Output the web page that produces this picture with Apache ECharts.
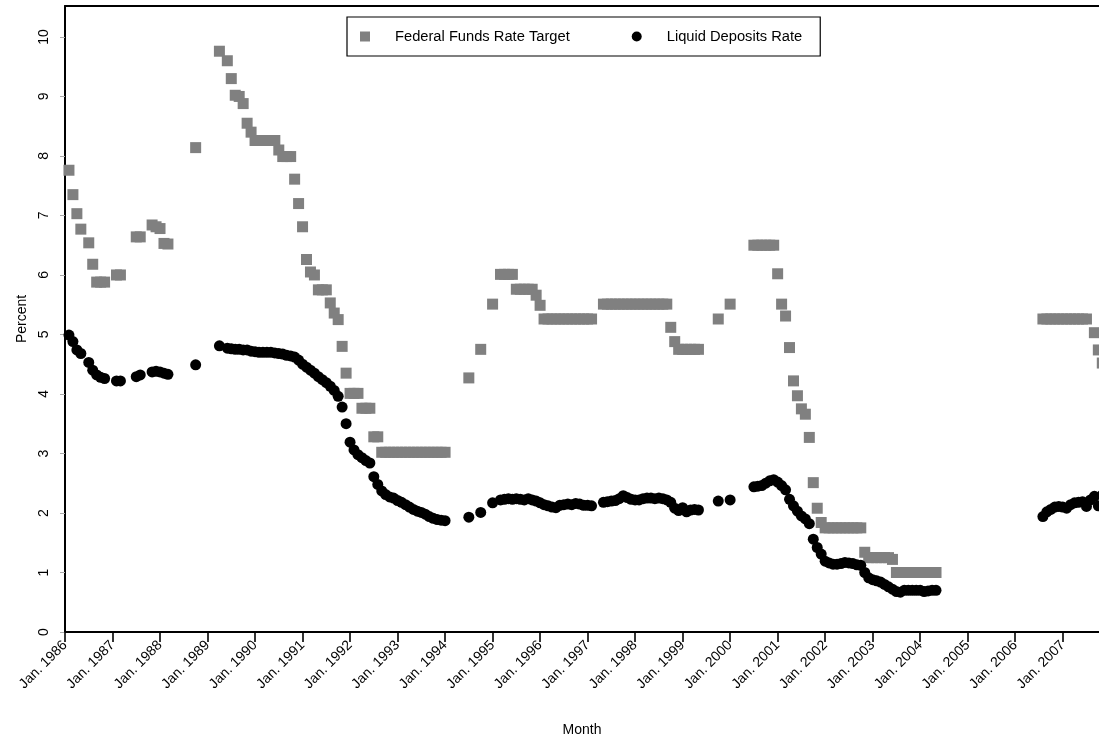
<!DOCTYPE html>
<html>
<head>
<meta charset="utf-8">
<script src="https://cdn.jsdelivr.net/npm/echarts@6.0.0/dist/echarts.min.js"></script>
<style>
  html, body { margin: 0; padding: 0; background: #fff; }
  #chart { width: 1099px; height: 740px; }
</style>
</head>
<body>
<div id="chart"></div>
<script>
var myChart = echarts.init(document.getElementById('chart'));

// monthly values, first entry = Jan. 1986, null = no observation
const startYear = 1986;

const fedFunds = [
    null, 7.76, 7.35, 7.03, 6.77, null, 6.54, 6.18, 5.88, 5.88, 5.88, null,   // 1986
    null, 6.00, 6.00, null, null, null, 6.64, 6.64, null, null, 6.84, 6.81,   // 1987
    6.78, 6.53, 6.52, null, null, null, null, null, null, 8.14, null, null,   // 1988
    null, null, null, 9.76, null, 9.60, 9.30, 9.02, 9.00, 8.88, 8.55, 8.40,   // 1989
    8.26, 8.26, 8.26, 8.26, 8.26, 8.26, 8.10, 7.99, 7.99, 7.99, 7.61, 7.20,   // 1990
    6.81, 6.26, 6.05, 6.00, 5.75, 5.75, 5.75, 5.53, 5.36, 5.25, 4.80, 4.35,   // 1991
    4.01, 4.01, 4.01, 3.76, 3.76, 3.76, 3.28, 3.28, 3.02, 3.02, 3.02, 3.02,   // 1992
    3.02, 3.02, 3.02, 3.02, 3.02, 3.02, 3.02, 3.02, 3.02, 3.02, 3.02, 3.02,   // 1993
    3.02, null, null, null, null, null, 4.27, null, null, 4.75, null, null,   // 1994
    5.51, null, 6.01, 6.01, 6.01, 6.01, 5.76, 5.76, 5.76, 5.76, 5.76, 5.66,   // 1995
    5.49, 5.26, 5.26, 5.26, 5.26, 5.26, 5.26, 5.26, 5.26, 5.26, 5.26, 5.26,   // 1996
    5.26, 5.26, null, null, 5.51, 5.51, 5.51, 5.51, 5.51, 5.51, 5.51, 5.51,   // 1997
    5.51, 5.51, 5.51, 5.51, 5.51, 5.51, 5.51, 5.51, 5.51, 5.12, 4.88, 4.75,   // 1998
    4.75, 4.75, 4.75, 4.75, 4.75, null, null, null, null, 5.26, null, null,   // 1999
    5.51, null, null, null, null, null, 6.50, 6.50, 6.50, 6.50, 6.50, 6.50,   // 2000
    6.02, 5.51, 5.31, 4.78, 4.22, 3.97, 3.75, 3.66, 3.27, 2.51, 2.08, 1.84,   // 2001
    1.75, 1.75, 1.75, 1.75, 1.75, 1.75, 1.75, 1.75, 1.75, 1.75, 1.34, 1.25,   // 2002
    1.25, 1.25, 1.25, 1.25, 1.25, 1.22, 1.00, 1.00, 1.00, 1.00, 1.00, 1.00,   // 2003
    1.00, 1.00, 1.00, 1.00, 1.00, null, null, null, null, null, null, null,   // 2004
    null, null, null, null, null, null, null, null, null, null, null, null,   // 2005
    null, null, null, null, null, null, null, 5.26, 5.26, 5.26, 5.26, 5.26,   // 2006
    5.26, 5.26, 5.26, 5.26, 5.26, 5.26, 5.26, null, 5.03, 4.74, 4.52          // 2007
];

const liquidDeposits = [
    null, 4.99, 4.88, 4.74, 4.68, null, 4.53, 4.40, 4.32, 4.28, 4.26, null,   // 1986
    null, 4.22, 4.22, null, null, null, 4.29, 4.32, null, null, 4.37, 4.38,   // 1987
    4.37, 4.35, 4.33, null, null, null, null, null, null, 4.49, null, null,   // 1988
    null, null, null, 4.81, null, 4.77, 4.76, 4.75, 4.75, 4.74, 4.74, 4.72,   // 1989
    4.71, 4.70, 4.70, 4.70, 4.70, 4.69, 4.68, 4.67, 4.65, 4.64, 4.62, 4.57,   // 1990
    4.50, 4.45, 4.40, 4.35, 4.29, 4.24, 4.19, 4.13, 4.06, 3.96, 3.78, 3.50,   // 1991
    3.19, 3.06, 2.98, 2.93, 2.88, 2.84, 2.61, 2.48, 2.37, 2.31, 2.27, 2.25,   // 1992
    2.21, 2.18, 2.14, 2.10, 2.06, 2.03, 2.01, 1.98, 1.94, 1.91, 1.89, 1.88,   // 1993
    1.87, null, null, null, null, null, 1.93, null, null, 2.01, null, null,   // 1994
    2.17, null, 2.22, 2.23, 2.24, 2.23, 2.24, 2.23, 2.22, 2.24, 2.22, 2.20,   // 1995
    2.17, 2.14, 2.12, 2.10, 2.09, 2.13, 2.14, 2.15, 2.14, 2.16, 2.15, 2.13,   // 1996
    2.13, 2.12, null, null, 2.18, 2.19, 2.20, 2.21, 2.24, 2.29, 2.26, 2.23,   // 1997
    2.22, 2.22, 2.24, 2.25, 2.25, 2.24, 2.25, 2.24, 2.22, 2.18, 2.08, 2.04,   // 1998
    2.09, 2.02, 2.05, 2.06, 2.05, null, null, null, null, 2.20, null, null,   // 1999
    2.22, null, null, null, null, null, 2.44, 2.45, 2.46, 2.50, 2.54, 2.56,   // 2000
    2.52, 2.46, 2.39, 2.23, 2.12, 2.03, 1.95, 1.90, 1.82, 1.56, 1.42, 1.31,   // 2001
    1.19, 1.16, 1.14, 1.14, 1.15, 1.17, 1.16, 1.15, 1.13, 1.12, 1.00, 0.91,   // 2002
    0.88, 0.86, 0.84, 0.80, 0.76, 0.72, 0.68, 0.67, 0.70, 0.70, 0.70, 0.70,   // 2003
    0.70, 0.68, 0.69, 0.70, 0.70, null, null, null, null, null, null, null,   // 2004
    null, null, null, null, null, null, null, null, null, null, null, null,   // 2005
    null, null, null, null, null, null, null, 1.94, 2.02, 2.06, 2.10, 2.11,   // 2006
    2.10, 2.08, 2.14, 2.17, 2.18, 2.19, 2.11, 2.22, 2.28, 2.12, 2.30          // 2007
];

const yearTicks = [1986, 1987, 1988, 1989, 1990, 1991, 1992, 1993, 1994, 1995, 1996,
    1997, 1998, 1999, 2000, 2001, 2002, 2003, 2004, 2005, 2006, 2007];
const percentTicks = [0, 1, 2, 3, 4, 5, 6, 7, 8, 9, 10];

const seriesNames = ['Federal Funds Rate Target', 'Liquid Deposits Rate'];

const fontName = "'Liberation Sans', Arial, Helvetica, sans-serif";

// month index -> [decimal year, value]
const toPoints = (values) => {
    const out = [];
    values.forEach((v, i) => {
        if (v !== null) out.push([startYear + i / 12, v]);
    });
    return out;
}

const xMin = 1986;
const xMax = 2007.764;   // plot frame ends at the right edge of the picture
const yMax = 10.52;

option = {
    animation: false,
    backgroundColor: '#fff',
    grid: {
        left: 65,
        right: 0,
        top: 6,
        bottom: 108,
        outerBoundsMode: 'none'
    },
    legend: {
        left: 347,
        top: 17,
        padding: [12, 18, 12, 13],
        borderColor: '#000',
        borderWidth: 1.2,
        itemWidth: 10,
        itemHeight: 10,
        itemGap: 62,
        selectedMode: false,
        textStyle: {
            fontFamily: fontName,
            fontSize: 14.7,
            color: '#000',
            padding: [0, 0, 0, 20]
        },
        data: [
            { name: seriesNames[0], icon: 'rect' },
            { name: seriesNames[1], icon: 'circle' }
        ]
    },
    xAxis: [
        {
            type: 'value',
            min: xMin,
            max: xMax,
            interval: 1,
            name: 'Month',
            nameLocation: 'middle',
            nameGap: 91,
            nameTextStyle: { fontFamily: fontName, fontSize: 14, color: '#000' },
            axisLine: { show: true, onZero: false, lineStyle: { color: '#000', width: 2 } },
            axisTick: {
                show: true,
                length: 10,
                customValues: yearTicks,
                lineStyle: { color: '#000', width: 1.6 }
            },
            axisLabel: {
                rotate: 45,
                margin: 11,
                fontFamily: fontName,
                fontSize: 14,
                color: '#000',
                customValues: yearTicks,
                formatter: function (v) {
                    return Number.isInteger(v) ? 'Jan. ' + v : '';
                }
            },
            splitLine: { show: false }
        },
        {
            type: 'value',
            position: 'top',
            min: xMin,
            max: xMax,
            axisLine: { show: true, onZero: false, lineStyle: { color: '#000', width: 2 } },
            axisTick: { show: false },
            axisLabel: { show: false },
            splitLine: { show: false }
        }
    ],
    yAxis: {
        type: 'value',
        min: 0,
        max: yMax,
        interval: 1,
        name: 'Percent',
        nameLocation: 'middle',
        nameGap: 27,
        nameTextStyle: { fontFamily: fontName, fontSize: 14, color: '#000' },
        axisLine: { show: true, onZero: false, lineStyle: { color: '#000', width: 2 } },
        axisTick: {
            show: true,
            length: 5,
            customValues: percentTicks,
            lineStyle: { color: '#aaa', width: 1 }
        },
        axisLabel: {
            rotate: 90,
            margin: 14,
            fontFamily: fontName,
            fontSize: 14,
            color: '#000',
            customValues: percentTicks,
            formatter: function (v) {
                return Number.isInteger(v) ? String(v) : '';
            }
        },
        splitLine: { show: false }
    },
    series: [
        {
            name: seriesNames[0],
            type: 'scatter',
            symbol: 'rect',
            symbolSize: 11,
            clip: false,
            itemStyle: { color: '#808080', opacity: 1 },
            emphasis: { disabled: true },
            data: toPoints(fedFunds)
        },
        {
            name: seriesNames[1],
            type: 'scatter',
            symbol: 'circle',
            symbolSize: 11,
            clip: false,
            itemStyle: { color: '#000', opacity: 1 },
            emphasis: { disabled: true },
            data: toPoints(liquidDeposits)
        }
    ]
}

myChart.setOption(option);
</script>
</body>
</html>
